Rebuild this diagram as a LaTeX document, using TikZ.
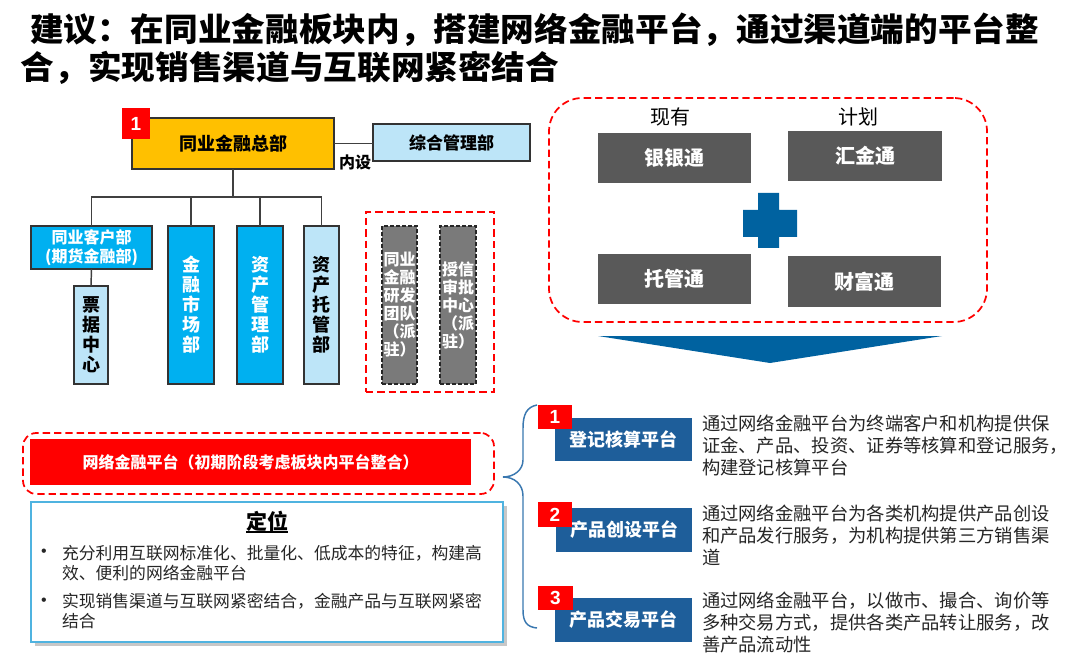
\documentclass[tikz,border=0pt]{standalone}
\usepackage{fontspec}
\setmainfont{Noto Sans CJK SC}
\newfontfamily\lat{Liberation Sans}
\newfontfamily\titlefont{Noto Sans CJK SC}[FakeStretch=1.035]
\usetikzlibrary{calc}
\newcommand\fpx[2]{\fontsize{\fpeval{#1*0.75}}{\fpeval{#2*0.75}}\selectfont}
\definecolor{cyel}{HTML}{FFC000}
\definecolor{cblue}{HTML}{00B0F0}
\definecolor{clblue}{HTML}{BDE5F8}
\definecolor{cgray}{HTML}{7A7A7A}
\definecolor{cdgray}{HTML}{595959}
\definecolor{cnavy}{HTML}{0062A0}
\definecolor{cplat}{HTML}{1E5E9A}
\definecolor{cbrace}{HTML}{3A78B0}
\definecolor{cframe}{HTML}{4FB3E0}
\definecolor{ctext}{HTML}{262626}
\definecolor{cred}{HTML}{FF0000}
\begin{document}
\begin{tikzpicture}[x=0.75pt,y=-0.75pt,
  every node/.style={inner sep=0pt,outer sep=0pt},
  bx/.style 2 args={minimum width=#1*0.75pt,minimum height=#2*0.75pt},
  org/.style={draw=black!80,line width=1.2pt},
  conn/.style={draw=black!75,line width=1.1pt},
  reddash/.style={draw=cred,line width=1.3pt,dash pattern=on 5.5pt off 3pt},
  badge/.style={fill=cred,text=white,font=\lat\bfseries\fpx{19}{19}},
  gbox/.style={fill=cgray,draw=black!85,line width=1pt,dash pattern=on 3pt off 1.5pt,text=white,align=center,font=\bfseries\fpx{16}{18}},
  vtxt/.style={align=center,font=\bfseries\fpx{18}{20}},
  dbox/.style={fill=cdgray,text=white,font=\bfseries\fpx{20}{20}},
  pbox/.style={fill=cplat,text=white,font=\bfseries\fpx{18}{18}},
  desc/.style={anchor=west,align=left,text=ctext,font=\fpx{18.3}{22}},
  btxt/.style={anchor=west,align=left,text=ctext,font=\fpx{16.8}{20}},
  ttl/.style={anchor=west,font=\titlefont\bfseries\fpx{32.5}{40}}
]
\useasboundingbox[fill=white] (0,0) rectangle (1080,666);

% title
\node[ttl] (t1) at (30,30) {建议：在同业金融板块内，搭建网络金融平台，通过渠道端的平台整};
\node[ttl] (t2) at (21,68) {合，实现销售渠道与互联网紧密结合};

% org chart
\node[org,bx={202}{51},fill=cyel,font=\bfseries\fpx{18}{18}] (hq) at (233,143.5) {同业金融总部};
\node[badge,bx={28}{31}] (n1) at (136,123.5) {1};
\node[org,bx={157}{37},fill=clblue,font=\bfseries\fpx{17}{17}] (zh) at (451.5,142.5) {综合管理部};
\draw[conn] (hq.east) -- (hq.east -| zh.west);
\node[font=\bfseries\fpx{16}{16}] (nsl) at (355,162) {内设};

\node[org,bx={121}{43},fill=cblue,text=white,align=center,font=\bfseries\fpx{16}{19}] (kh) at (91.5,247.5) {同业客户部\\(期货金融部)};
\node[org,bx={34}{98},fill=clblue,vtxt] (pj) at (91,335) {票\\据\\中\\心};
\node[org,bx={46}{158},fill=cblue,text=white,vtxt] (jr) at (191,305) {金\\融\\市\\场\\部};
\node[org,bx={46}{158},fill=cblue,text=white,vtxt] (zc) at (260,305) {资\\产\\管\\理\\部};
\node[org,bx={35}{158},fill=clblue,vtxt] (tg) at (321.5,305) {资\\产\\托\\管\\部};

\coordinate (bus) at (233,197);
\draw[conn] (hq.south) -- (bus);
\draw[conn] (kh.north) |- (tg.north |- bus) -- (tg.north);
\draw[conn] (jr.north) -- (jr.north |- bus);
\draw[conn] (zc.north) -- (zc.north |- bus);
\draw[conn] (kh.south) -- (pj.north);

\node[reddash,bx={128}{180}] (grp) at (430,302) {};
\node[gbox,bx={35}{158}] (g1) at (399.5,305) {同业\\金融\\研发\\团队\\（派\\驻）};
\node[gbox,bx={36}{158}] (g2) at (458,305) {授信\\审批\\中心\\（派\\驻）};

% top right
\node[reddash,rounded corners=25pt,bx={438}{224}] (plan) at (768,210) {};
\node[font=\fpx{20}{20}] (xy) at (670,117) {现有};
\node[font=\fpx{20}{20}] (jh) at (858,117) {计划};
\node[dbox,bx={153}{50}] (yy) at (674.5,158) {银银通};
\node[dbox,bx={154}{50}] (hj) at (865,156) {汇金通};
\node[dbox,bx={153}{50}] (tgt) at (674.5,279) {托管通};
\node[dbox,bx={153}{51}] (cf) at (864.5,281.5) {财富通};
\fill[cnavy] (758,193) -- (779,193) -- (779,210) -- (797,210) -- (797,237) -- (779,237) -- (779,248) -- (758,248) -- (758,237) -- (743,237) -- (743,210) -- (758,210) -- cycle;
\fill[cnavy] (598,336) -- (942,336) -- (770,363) -- cycle;

% bottom left
\node[reddash,rounded corners=10pt,bx={471}{61}] (wlo) at (258.5,463.5) {};
\node[fill=cred,bx={441}{46},text=white,font=\bfseries\fpx{16}{16}] (wl) at (250.5,462) {网络金融平台（初期阶段考虑板块内平台整合）};
\fill[black!22] (35,506) rectangle (507,646);
\node[draw=cframe,fill=white,line width=1.1pt,bx={472}{140}] (dw) at (267,572) {};
\node[font=\bfseries\fpx{21}{21}] (dwt) at (267,521) {定位};
\draw[line width=1.1pt] ($(dwt.base west)+(0,3)$) -- ($(dwt.base east)+(0,3)$);
\node[font=\lat\fpx{16}{16},text=ctext] (bu1) at (44,553) {•};
\node[btxt] (bt1) at (62,563) {充分利用互联网标准化、批量化、低成本的特征，构建高\\效、便利的网络金融平台};
\node[font=\lat\fpx{16}{16},text=ctext] (bu2) at (44,602) {•};
\node[btxt] (bt2) at (62,611.5) {实现销售渠道与互联网紧密结合，金融产品与互联网紧密\\结合};

% brace
\draw[cbrace,line width=1.1pt] (537,405) .. controls (527,407) and (523,414) .. (523,428) -- (523,460) .. controls (523,470) and (514,477) .. (503,477) .. controls (514,477) and (523,484) .. (523,496) -- (523,610) .. controls (523,622) and (527,627) .. (537,628);

% platforms
\node[pbox,bx={137}{43}] (p1) at (623.5,439.5) {登记核算平台};
\node[pbox,bx={136}{44}] (p2) at (624,530) {产品创设平台};
\node[pbox,bx={137}{44}] (p3) at (623.5,620) {产品交易平台};
\node[badge,bx={34}{24}] (b1) at (555,417) {1};
\node[badge,bx={34}{25}] (b2) at (555,514.5) {2};
\node[badge,bx={35}{24}] (b3) at (555.5,598) {3};

\node[desc] (d1) at (702,445) {通过网络金融平台为终端客户和机构提供保\\证金、产品、投资、证券等核算和登记服务，\\构建登记核算平台};
\node[desc] (d2) at (702,535) {通过网络金融平台为各类机构提供产品创设\\和产品发行服务，为机构提供第三方销售渠\\道};
\node[desc] (d3) at (702,622) {通过网络金融平台，以做市、撮合、询价等\\多种交易方式，提供各类产品转让服务，改\\善产品流动性};
\end{tikzpicture}
\end{document}
